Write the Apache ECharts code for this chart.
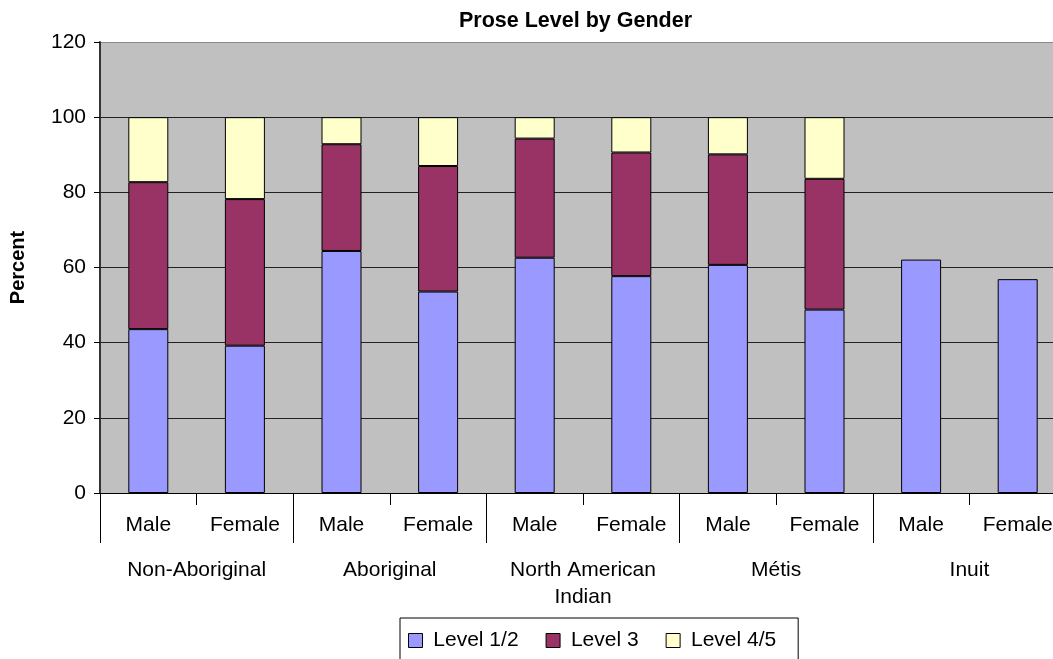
<!DOCTYPE html>
<html>
<head>
<meta charset="utf-8">
<script src="https://cdn.jsdelivr.net/npm/echarts@6/dist/echarts.min.js"></script>
<style>
  html, body { margin: 0; padding: 0; background: #fff; }
  #prose_chart { width: 1053px; height: 659px; }
</style>
</head>
<body>
<div id="prose_chart"></div>
<script>
var gender_data = ['Male', 'Female', 'Male', 'Female', 'Male', 'Female', 'Male', 'Female', 'Male', 'Female'];
var group_data = ['Non-Aboriginal', 'Aboriginal', 'North American\nIndian', 'Métis', 'Inuit'];
var level12_data = [43.6, 39.2, 64.4, 53.6, 62.6, 57.7, 60.7, 48.8, 62.1, 56.9];
var level3_data = [39.1, 39.0, 28.4, 33.4, 31.7, 32.9, 29.4, 34.8, null, null];
var level45_data = [17.3, 21.8, 7.2, 13.0, 5.7, 9.4, 9.9, 16.4, null, null];
var y_ticks = [0, 20, 40, 60, 80, 100, 120];

var font = 'Liberation Sans, Arial, sans-serif';

echarts.init(document.getElementById('prose_chart')).setOption({
    textStyle: { fontFamily: font },
    title: {
        text: 'Prose Level by Gender',
        left: 459,
        top: 10,
        padding: 0,
        textStyle: { fontFamily: font, fontSize: 21.5, fontWeight: 'bold', color: '#000' }
    },
    color: ['#9999ff', '#993366', '#ffffcc'],
    legend: {
        left: 400,
        top: 618,
        padding: [12, 22, 12, 8],
        itemGap: 27,
        itemWidth: 14,
        itemHeight: 14,
        icon: 'rect',
        formatter: function (name) { return ' ' + name; },
        borderColor: '#000',
        borderWidth: 1,
        backgroundColor: '#fff',
        borderRadius: 0,
        textStyle: { fontFamily: font, fontSize: 21, color: '#000' },
        itemStyle: { borderColor: '#000', borderWidth: 1 }
    },
    grid: {
        left: 100,
        top: 42,
        width: 966,
        bottom: 166,
        outerBoundsMode: 'none',
        show: true,
        backgroundColor: '#c0c0c0',
        borderWidth: 0
    },
    xAxis: [{
        type: 'category',
        data: gender_data,
        position: 'bottom',
        axisLine: { lineStyle: { color: '#000', width: 1 } },
        axisTick: { show: true, length: 12, interval: 0, lineStyle: { color: '#000' } },
        axisLabel: { interval: 0, margin: 22, fontSize: 21, color: '#000', fontFamily: font }
    }, {
        type: 'category',
        data: group_data,
        position: 'bottom',
        axisLine: { show: false },
        axisTick: { show: true, length: 50, interval: 0, lineStyle: { color: '#000' } },
        axisLabel: { interval: 0, margin: 64, fontSize: 21, color: '#000', lineHeight: 27, fontFamily: font }
    }],
    yAxis: {
        type: 'value',
        min: y_ticks[0],
        max: y_ticks[y_ticks.length - 1],
        interval: 20,
        name: 'Percent',
        nameLocation: 'middle',
        nameGap: 72,
        nameTextStyle: { fontFamily: font, fontSize: 20, fontWeight: 'bold', color: '#000' },
        axisLine: { show: true, lineStyle: { color: '#333', width: 2 } },
        axisTick: { show: true, length: 6, lineStyle: { color: '#000' } },
        axisLabel: { margin: 14, fontSize: 21, color: '#000', fontFamily: font },
        splitLine: {
            show: true,
            lineStyle: { color: ['#222', '#222', '#222', '#222', '#222', '#222', '#888'], width: 1 }
        }
    },
    series: [{
        name: 'Level 1/2',
        type: 'bar',
        stack: 'prose',
        barWidth: 40,
        data: level12_data,
        itemStyle: { borderColor: '#000', borderWidth: 1 }
    }, {
        name: 'Level 3',
        type: 'bar',
        stack: 'prose',
        barWidth: 40,
        data: level3_data,
        itemStyle: { borderColor: '#000', borderWidth: 1 }
    }, {
        name: 'Level 4/5',
        type: 'bar',
        stack: 'prose',
        barWidth: 40,
        data: level45_data,
        itemStyle: { borderColor: '#000', borderWidth: 1 }
    }]
});
</script>
</body>
</html>
